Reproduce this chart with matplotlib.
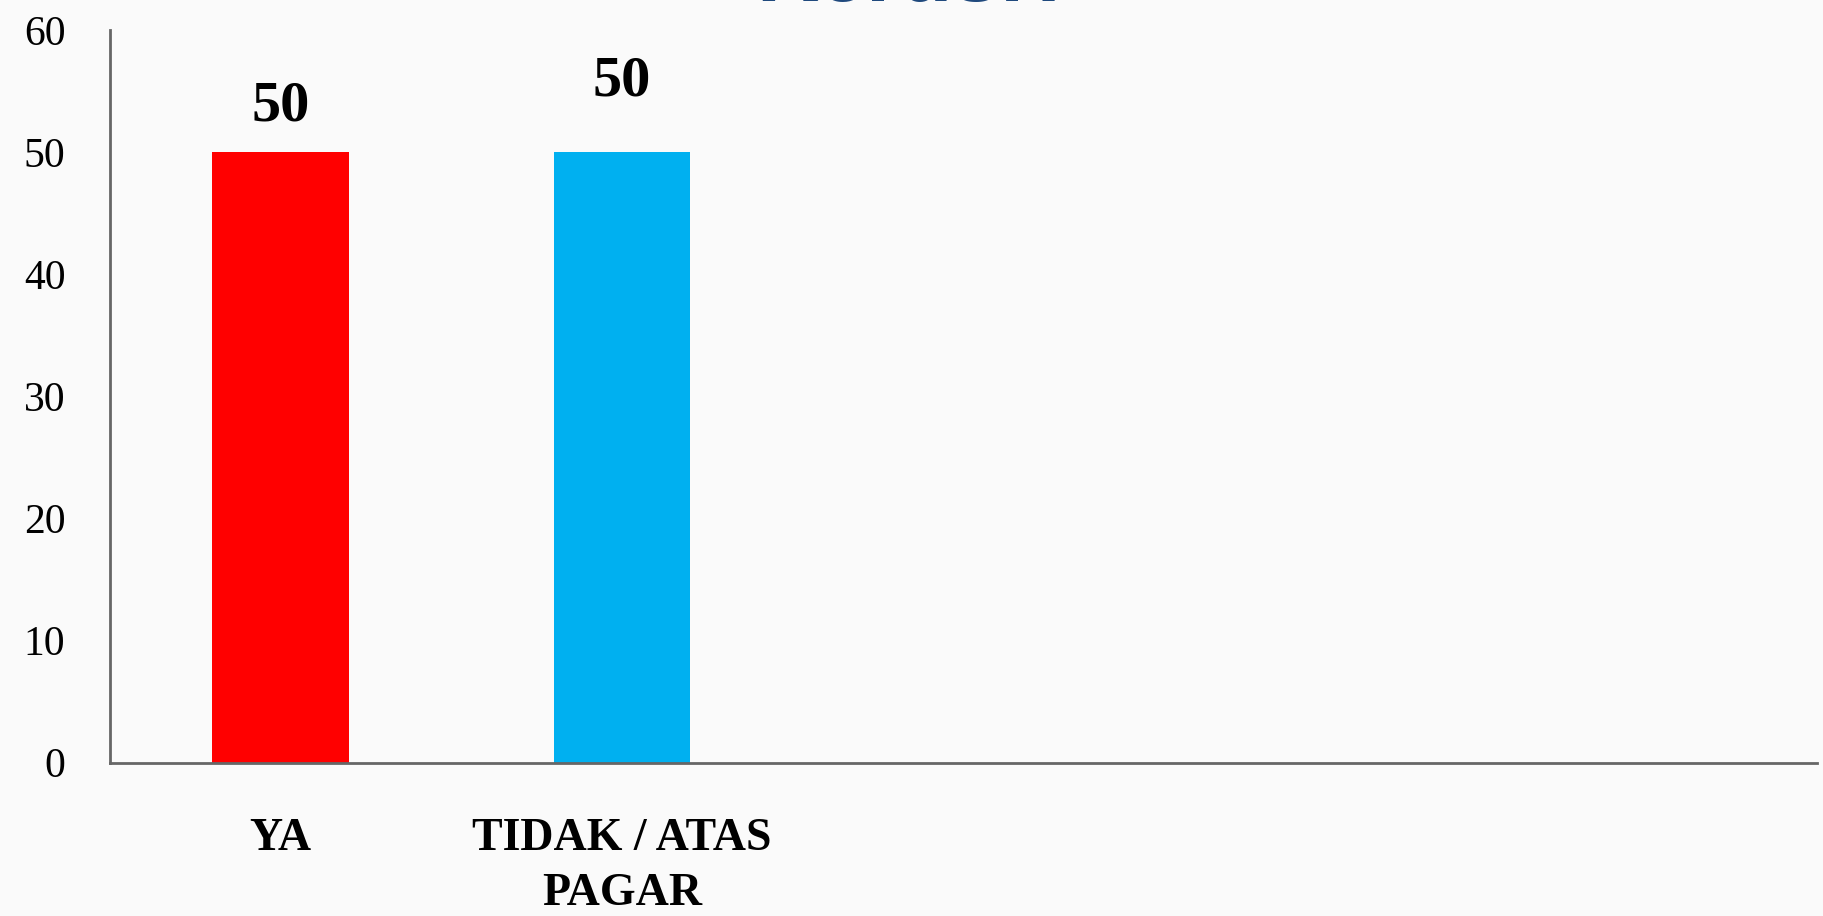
import matplotlib
matplotlib.use("Agg")
import matplotlib.pyplot as plt

# data
categories = ["YA", "TIDAK / ATAS\nPAGAR"]
values = [50, 50]
bar_colors = ["#FF0000", "#00B0F0"]
y_ticks = [0, 10, 20, 30, 40, 50, 60]
n_slots = 5  # the chart area holds room for five categories


def plot_chart(out_path="out.png"):
    fig = plt.figure(figsize=(18.23, 9.16), dpi=100, facecolor="#fafafa")
    ax = fig.add_axes([0.0603, 0.1674, 0.9364, 0.7998])
    ax.set_facecolor("none")

    x = list(range(len(categories)))
    bars = ax.bar(x, values, width=0.4, color=bar_colors)

    # value labels (second one sits a little higher, as in the original)
    label_offsets = [33, 51]
    for rect, val, off in zip(bars, values, label_offsets):
        ax.annotate(str(val), (rect.get_x() + rect.get_width() / 2, rect.get_height()),
                    xytext=(0, off), textcoords="offset points",
                    ha="center", va="center", fontsize=42, fontweight="bold",
                    family="Liberation Serif", color="black")

    ax.set_xlim(-0.5, n_slots - 0.5)
    ax.set_ylim(0, 60)
    ax.set_yticks(y_ticks)
    ax.set_yticklabels([str(t) for t in y_ticks], family="Liberation Serif", fontsize=30)
    ax.set_xticks(x)
    ax.set_xticklabels(categories, family="Liberation Serif", fontsize=33,
                       fontweight="bold", linespacing=1.4)
    ax.tick_params(axis="y", length=0, pad=32)
    ax.tick_params(axis="x", length=0, pad=40)

    for side in ["top", "right"]:
        ax.spines[side].set_visible(False)
    for side in ["left", "bottom"]:
        ax.spines[side].set_color("#666666")
        ax.spines[side].set_linewidth(2)

    # title is cut off at the top edge in the original
    fig.text(0.503, 1 - 1 / 916, "Kerusi?", ha="center", va="baseline",
             fontsize=62, fontweight="bold", color="#1F497D", family="Liberation Sans")

    fig.savefig(out_path, dpi=100, facecolor=fig.get_facecolor())


if __name__ == "__main__":
    plot_chart()
